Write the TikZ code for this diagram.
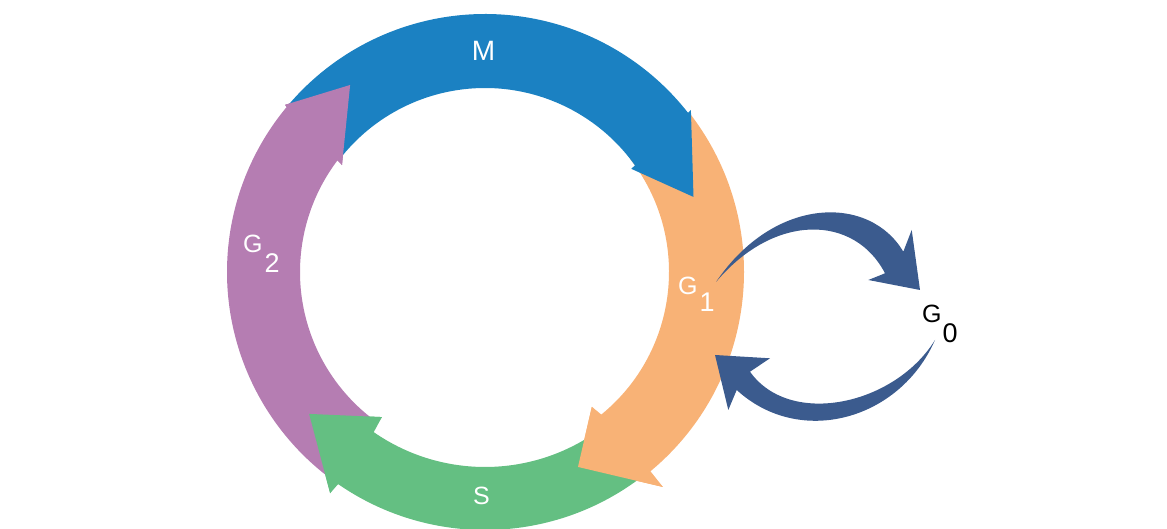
\documentclass[tikz,border=0pt]{standalone}
\usepackage{fontspec}
\setmainfont{Liberation Sans}
\usepackage{xcolor}
\usepackage{tikz}

\definecolor{mblue}{RGB}{27,129,194}
\definecolor{gorange}{RGB}{248,178,118}
\definecolor{sgreen}{RGB}{100,191,130}
\definecolor{gpurple}{RGB}{181,125,178}
\definecolor{quiet}{RGB}{59,91,142}

\begin{document}
\begin{tikzpicture}[x=1pt,y=1pt,
  phase/.style={text=white,inner sep=0pt,font=\fontsize{25}{30}\selectfont}]
  \useasboundingbox (0,0) rectangle (1167,529);
  % the cycle, centre of the ring
  \begin{scope}[shift={(485,257)}]
    % G1
    \fill[gorange] (38:259) arc[start angle=38,end angle=-50.3,radius=259]
      -- (-50.4:279) -- (-64.5:216) -- (-51.6:172) -- (-50.8:184)
      arc[start angle=-50.8,end angle=38,radius=184] -- cycle;
    % S
    \fill[sgreen] (-52:258) arc[start angle=-52,end angle=-124.7,radius=258]
      -- (-125:270) -- (-141.1:226) -- (-125.4:178) -- (-124.8:195)
      arc[start angle=-124.8,end angle=-52,radius=195] -- cycle;
    % G2
    \fill[gpurple] (234:258) arc[start angle=234,end angle=140.3,radius=258]
      -- (140.1:260.6) -- (125.8:230.6) -- (143.2:178.6) -- (142.9:185)
      arc[start angle=142.9,end angle=234,radius=185] -- cycle;
    % M
    \fill[mblue] (140.1:258) arc[start angle=140.1,end angle=38.1,radius=258]
      -- (38.2:262) -- (19.8:221.6) -- (35.2:179) -- (35.4:184)
      arc[start angle=35.4,end angle=140.6,radius=184] -- cycle;
    % heads over the next tail
    \fill[gorange] (-50.4:279) -- (-64.5:216) -- (-51.6:172) -- cycle;
    \fill[sgreen] (-125:270) -- (-141.1:226) -- (-125.4:178) -- cycle;
    \fill[gpurple] (140.1:260.6) -- (125.8:230.6) -- (143.2:178.6) -- cycle;
  \end{scope}

  % labels
  \node[phase,font=\fontsize{28}{32}\selectfont,anchor=base] (mlabel) at (483.5,468) {M};
  \node[phase,anchor=base] (slabel) at (481.5,24) {S};
  \node[phase,anchor=base west] (gtwolabel) at (243,276)
    {G\kern2pt\raisebox{-20pt}{\fontsize{27}{30}\selectfont 2}};
  \node[phase,anchor=base west] (gonelabel) at (678,234)
    {G\kern2pt\raisebox{-17pt}{\fontsize{27}{30}\selectfont 1}};
  \node[phase,text=black,anchor=base west] (gzerolabel) at (922,206)
    {G\kern1pt\raisebox{-20pt}{\fontsize{27}{30}\selectfont 0}};

  % G1 <-> G0
  \coordinate (outtail) at (716,247);
  \coordinate (outtip) at (920,239);
  \coordinate (backtail) at (935,189);
  \coordinate (backtip) at (715,174);
  \fill[quiet] (outtail) .. controls (775,334) and (870,334) .. (903.3,277.3)
    -- (911.7,299) -- (outtip) -- (868.3,249) -- (885,255.7)
    .. controls (855,314) and (775,317) .. (outtail) -- cycle;
  \fill[quiet] (backtail) .. controls (900,109) and (800,81) .. (736.7,139)
    -- (728.3,119) -- (backtip) -- (770,170.7) -- (750,157.3)
    .. controls (790,101) and (895,124) .. (backtail) -- cycle;
\end{tikzpicture}
\end{document}
